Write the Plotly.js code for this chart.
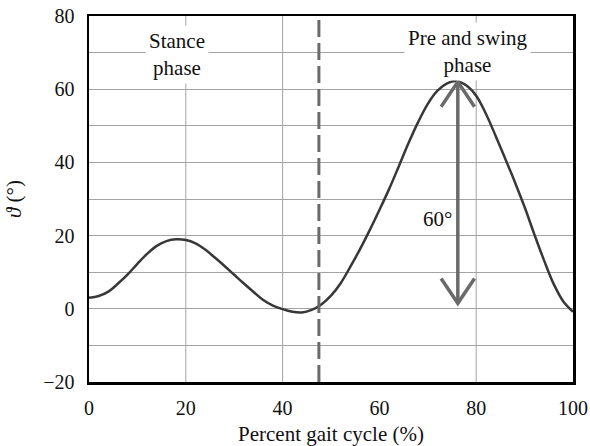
<!DOCTYPE html>
<html>
<head>
<meta charset="utf-8">
<script src="https://cdn.plot.ly/plotly-3.0.1.min.js"></script>
<style>html,body{margin:0;padding:0;background:#fff;}#chart{width:590px;height:446px;}</style>
</head>
<body>
<div id="chart"></div>
<script>
// Data
const gaitPercent = [0, 2, 4, 6, 8, 10, 12, 14, 16, 18, 20, 22, 24, 26, 28, 30, 32, 34, 36, 38, 40, 42, 44, 46, 48, 50, 52, 54, 56, 58, 60, 62, 64, 66, 68, 70, 72, 74, 76, 78, 80, 82, 84, 86, 88, 90, 92, 94, 96, 98, 100];
const kneeAngle   = [3.0, 3.5, 4.7, 6.9, 9.4, 12.3, 15.0, 17.2, 18.5, 19.0, 18.8, 17.9, 16.2, 14.0, 11.7, 9.3, 6.9, 4.6, 2.4, 0.9, -0.1, -0.8, -1.0, -0.3, 1.2, 3.6, 7.0, 11.5, 16.3, 21.5, 27.0, 32.7, 38.9, 45.2, 51.0, 56.0, 59.6, 61.6, 62.2, 61.0, 58.2, 53.3, 47.3, 41.0, 34.6, 27.8, 20.4, 13.3, 6.8, 2.0, -0.8];
const xTicks = [0, 20, 40, 60, 80, 100];
const yTicks = [-20, 0, 20, 40, 60, 80];
const xGridLines = [20, 40, 80];
const phaseBoundary = 47.5;
const phaseLabels = ["Stance<br>phase", "Pre and swing<br>phase"];
const phaseLabelX = [18.2, 78.1];
const phaseLabelY = [69.5, 70.2];
const rangeArrowX = 76.2;
const rangeArrowTop = 62;
const rangeArrowBottom = 1.5;
const rangeLabel = "60°";
const rangeLabelPos = [71.9, 24.6];

const FONT = "'Liberation Serif', 'Times New Roman', serif";
const gridColor = "#a3a3a3";
const arrowColor = "#6a6a6a";
const textColor = "#111111";

const shapes = [];
xGridLines.forEach(v => shapes.push({
  type: "line", xref: "x", yref: "paper", x0: v, x1: v, y0: 0, y1: 1,
  line: {color: gridColor, width: 1}, layer: "below"
}));
shapes.push({
  type: "line", xref: "x", yref: "paper", x0: phaseBoundary, x1: phaseBoundary, y0: 0, y1: 1,
  line: {color: arrowColor, width: 3, dash: "17px,6px"}, layer: "above"
});
shapes.push({
  type: "line", xref: "x", yref: "y", x0: rangeArrowX, x1: rangeArrowX, y0: rangeArrowBottom, y1: rangeArrowTop,
  line: {color: arrowColor, width: 3.5}, layer: "above"
});
const hx = 3.45, hy = 6.8;
shapes.push({
  type: "path", xref: "x", yref: "y",
  path: `M ${rangeArrowX - hx},${rangeArrowTop - hy} L ${rangeArrowX},${rangeArrowTop} L ${rangeArrowX + hx},${rangeArrowTop - hy}`,
  line: {color: arrowColor, width: 3.5}, layer: "above"
});
shapes.push({
  type: "path", xref: "x", yref: "y",
  path: `M ${rangeArrowX - hx},${rangeArrowBottom + hy} L ${rangeArrowX},${rangeArrowBottom} L ${rangeArrowX + hx},${rangeArrowBottom + hy}`,
  line: {color: arrowColor, width: 3.5}, layer: "above"
});

const annotations = phaseLabels.map((t, i) => ({
  x: phaseLabelX[i], y: phaseLabelY[i], xref: "x", yref: "y",
  text: t, showarrow: false, bgcolor: "#ffffff", borderpad: 3,
  font: {family: FONT, size: 21, color: textColor}
}));
annotations.push({
  x: rangeLabelPos[0], y: rangeLabelPos[1], xref: "x", yref: "y",
  text: rangeLabel, showarrow: false,
  font: {family: FONT, size: 21, color: textColor}
});

const trace = {
  x: gaitPercent, y: kneeAngle, type: "scatter", mode: "lines",
  line: {color: "#383838", width: 2.5, shape: "spline", smoothing: 1},
  hoverinfo: "skip"
};

const layout = {
  width: 590, height: 446,
  margin: {l: 89, r: 17, t: 16, b: 64},
  paper_bgcolor: "#fff", plot_bgcolor: "#fff",
  showlegend: false,
  font: {family: FONT, size: 20, color: textColor},
  xaxis: {
    range: [0, 100], tickvals: xTicks, ticks: "", ticklabelstandoff: 6,
    showgrid: false, zeroline: false,
    showline: true, mirror: true, linecolor: "#000", linewidth: 2.5,
    tickfont: {family: FONT, size: 20, color: textColor},
    title: {text: "Percent gait cycle (%)", font: {family: FONT, size: 21, color: textColor}, standoff: 11}
  },
  yaxis: {
    range: [-20, 80], tickvals: yTicks, ticks: "", ticklabelstandoff: 8,
    showgrid: true, gridcolor: gridColor, gridwidth: 1,
    minor: {dtick: 10, showgrid: true, gridcolor: gridColor, gridwidth: 1},
    zeroline: false,
    showline: true, mirror: true, linecolor: "#000", linewidth: 2.5,
    tickfont: {family: FONT, size: 20, color: textColor},
    title: {text: "<i>ϑ</i> (°)", font: {family: FONT, size: 21, color: textColor}, standoff: 16}
  },
  shapes: shapes,
  annotations: annotations
};

Plotly.newPlot("chart", [trace], layout, {displayModeBar: false, staticPlot: true});
</script>
</body>
</html>
